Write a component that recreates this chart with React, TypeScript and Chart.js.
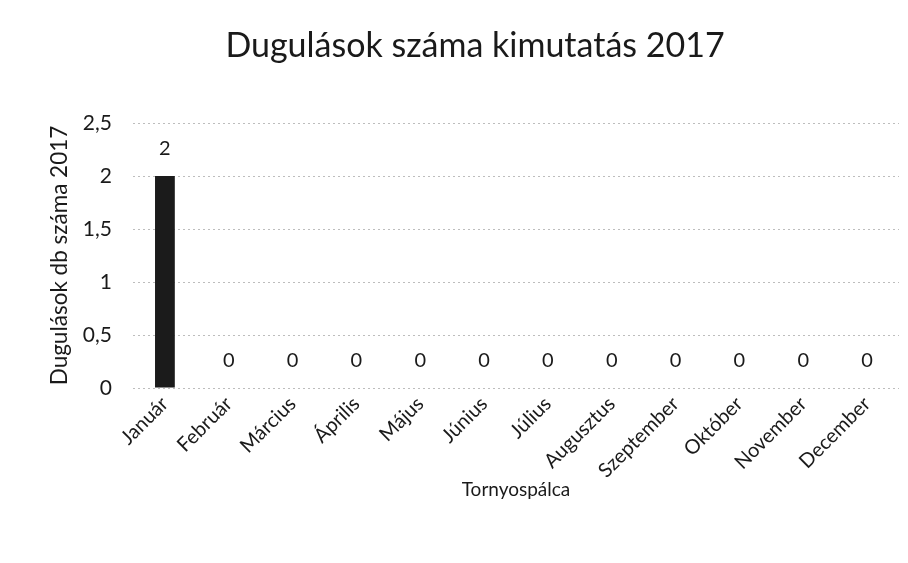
import React, { useEffect, useRef } from "react";
import { Chart, registerables } from "chart.js";

Chart.register(...registerables);

const categories = ["Január", "Február", "Március", "Április", "Május", "Június", "Július", "Augusztus", "Szeptember", "Október", "November", "December"];
const values = [2, 0, 0, 0, 0, 0, 0, 0, 0, 0, 0, 0];
const titleText = "Dugulások száma kimutatás 2017";
const yTitle = "Dugulások db száma 2017";
const xTitle = "Tornyospálca";

const FONT = "Lato, 'Open Sans', sans-serif";
const INK = "#1a1a1a";

const dataLabels = {
  id: "dataLabels",
  afterDatasetsDraw(chart: any) {
    const ctx = chart.ctx;
    const meta = chart.getDatasetMeta(0);
    ctx.save();
    ctx.fillStyle = INK;
    ctx.font = `20px ${FONT}`;
    ctx.textAlign = "center";
    ctx.textBaseline = "middle";
    meta.data.forEach((el: any, i: number) => {
      ctx.fillText(String(values[i]).replace(".", ","), el.x, el.y - 27);
    });
    ctx.restore();
  },
};

const chartTitle = {
  id: "chartTitle",
  afterDraw(chart: any) {
    const ctx = chart.ctx;
    ctx.save();
    ctx.fillStyle = INK;
    ctx.font = `34px ${FONT}`;
    ctx.textAlign = "center";
    ctx.textBaseline = "middle";
    ctx.fillText(titleText, 475, 46);
    ctx.restore();
  },
};

export default function App() {
  const ref = useRef<HTMLCanvasElement>(null);
  useEffect(() => {
    const chart = new Chart(ref.current!, {
      type: "bar",
      data: {
        labels: categories,
        datasets: [
          {
            data: values,
            backgroundColor: "#1b1b1b",
            barPercentage: 0.31,
            categoryPercentage: 1,
          },
        ],
      },
      options: {
        animation: false,
        responsive: false,
        layout: { padding: { right: 9, top: 123, left: 0, bottom: 0 } },
        plugins: {
          legend: { display: false },
          tooltip: { enabled: false },
          title: { display: false },
        },
        scales: {
          x: {
            grid: { display: false },
            border: { display: false },
            ticks: {
              color: INK,
              font: { family: FONT, size: 20 },
              minRotation: 45,
              maxRotation: 45,
              padding: -4,
            },
            title: {
              display: true,
              text: xTitle,
              color: INK,
              font: { family: FONT, size: 19 },
              padding: { top: 0, bottom: 62 },
            },
            afterFit(scale: any) {
              scale.height = 175;
            },
          },
          y: {
            min: 0,
            max: 2.5,
            grid: {
              color: "#bdbdbd",
              drawTicks: false,
              tickLength: 0,
            },
            border: { display: false, dash: [2, 3] },
            ticks: {
              stepSize: 0.5,
              color: INK,
              font: { family: FONT, size: 21 },
              padding: 21,
              callback: (v: any) => String(v).replace(".", ","),
            },
            title: {
              display: true,
              text: yTitle,
              color: INK,
              font: { family: FONT, size: 22.5 },
              padding: { top: 46, bottom: 0 },
            },
            afterFit(scale: any) {
              scale.width = 133;
            },
          },
        },
      },
      plugins: [dataLabels, chartTitle],
    } as any);
    return () => chart.destroy();
  }, []);
  return (
    <div style={{ position: "fixed", left: 0, top: 0, width: 908, height: 563, background: "#fff" }}>
      <canvas ref={ref} width={908} height={563} />
    </div>
  );
}
